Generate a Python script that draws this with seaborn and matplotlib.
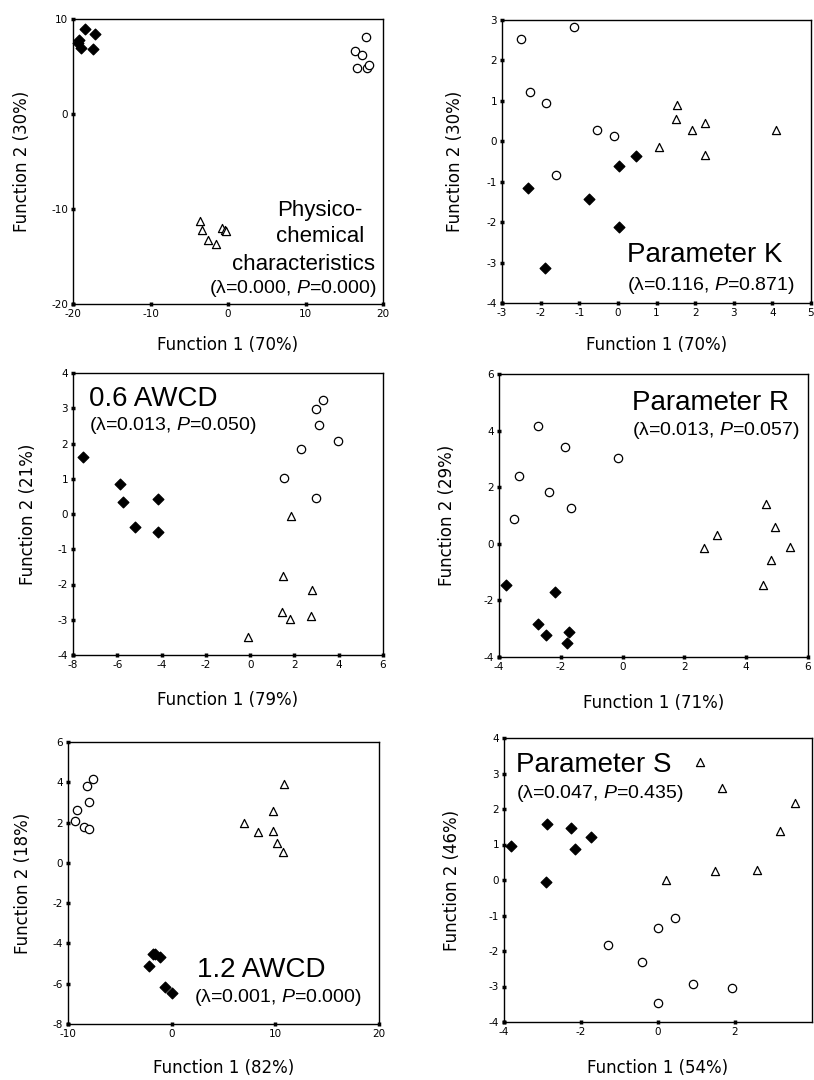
import pandas as pd
import matplotlib
matplotlib.use("Agg")
import matplotlib.pyplot as plt
import seaborn as sns

# Стиль
sns.set_style("white")
plt.rcParams['font.family'] = ['DejaVu Sans']
plt.rcParams['text.color'] = 'black'
plt.rcParams['axes.labelcolor'] = 'black'
plt.rcParams['xtick.color'] = 'black'
plt.rcParams['ytick.color'] = 'black'
plt.rcParams['axes.unicode_minus'] = False
plt.rcParams['mathtext.fontset'] = 'custom'
plt.rcParams['mathtext.it'] = 'Liberation Sans:italic'
plt.rcParams['mathtext.rm'] = 'Liberation Sans'

# --- Данные ---
# Physico-chemical characteristics
phys_dia_x = [-18.4, -17.2, -19.2, -19.0, -17.4, -19.3]
phys_dia_y = [8.9, 8.4, 7.8, 6.9, 6.8, 7.5]
phys_cir_x = [17.8, 16.4, 17.3, 16.7, 17.9, 18.2]
phys_cir_y = [8.1, 6.6, 6.2, 4.8, 4.8, 5.2]
phys_tri_x = [-3.6, -3.3, -2.6, -1.5, -0.8, -0.35, -0.2]
phys_tri_y = [-11.3, -12.2, -13.3, -13.7, -12.0, -12.2, -12.3]

# Parameter K
k_dia_x = [-2.33, -1.89, -0.75, 0.03, 0.03, 0.47]
k_dia_y = [-1.16, -3.13, -1.42, -0.62, -2.11, -0.36]
k_cir_x = [-2.52, -1.14, -2.27, -1.85, -0.54, -0.09, -1.59]
k_cir_y = [2.52, 2.83, 1.22, 0.95, 0.29, 0.14, -0.83]
k_tri_x = [1.07, 1.53, 1.50, 1.91, 2.26, 2.26, 4.09]
k_tri_y = [-0.14, 0.89, 0.56, 0.29, 0.44, -0.33, 0.29]

# 0.6 AWCD
a06_dia_x = [-7.55, -5.87, -5.76, -4.14, -5.2, -4.14]
a06_dia_y = [1.61, 0.84, 0.33, 0.43, -0.36, -0.50]
a06_cir_x = [2.98, 3.27, 3.09, 3.96, 2.28, 1.54, 2.98]
a06_cir_y = [2.98, 3.22, 2.53, 2.08, 1.85, 1.01, 0.46]
a06_tri_x = [1.85, 1.5, 2.78, 1.45, 1.8, 2.74, -0.09]
a06_tri_y = [-0.05, -1.76, -2.16, -2.77, -2.99, -2.89, -3.49]

# Parameter R
r_dia_x = [-3.78, -2.19, -2.74, -2.47, -1.75, -1.79]
r_dia_y = [-1.45, -1.72, -2.85, -3.21, -3.12, -3.5]
r_cir_x = [-2.74, -1.88, -0.15, -3.35, -2.39, -1.68, -3.50]
r_cir_y = [4.16, 3.43, 3.03, 2.41, 1.83, 1.25, 0.86]
r_tri_x = [2.65, 3.05, 4.65, 4.94, 5.41, 4.81, 4.54]
r_tri_y = [-0.15, 0.3, 1.39, 0.58, -0.12, -0.57, -1.45]

# 1.2 AWCD
a12_dia_x = [-2.23, -1.58, -1.16, -0.65, 0.03, -1.8]
a12_dia_y = [-5.13, -4.52, -4.65, -6.15, -6.48, -4.5]
a12_cir_x = [-7.63, -8.21, -8.02, -9.18, -9.28, -8.44, -8.02]
a12_cir_y = [4.15, 3.82, 3.04, 2.62, 2.09, 1.76, 1.66]
a12_tri_x = [10.8, 9.76, 6.98, 8.31, 9.76, 10.2, 10.73]
a12_tri_y = [3.9, 2.59, 1.96, 1.51, 1.58, 1.0, 0.55]

# Parameter S
s_dia_x = [-3.83, -2.88, -2.27, -2.16, -1.74, -2.90]
s_dia_y = [0.95, 1.58, 1.47, 0.88, 1.21, -0.05]
s_cir_x = [0.43, -0.01, -1.29, -0.42, 0.91, 1.91, -0.01]
s_cir_y = [-1.06, -1.35, -1.82, -2.30, -2.92, -3.03, -3.46]
s_tri_x = [1.09, 1.67, 3.55, 3.17, 1.47, 2.58, 0.21]
s_tri_y = [3.31, 2.6, 2.16, 1.39, 0.24, 0.27, -0.01]


def make_df(dx, dy, cx, cy, tx, ty):
    return pd.concat([
        pd.DataFrame({'f1': dx, 'f2': dy, 'group': 'dia'}),
        pd.DataFrame({'f1': cx, 'f2': cy, 'group': 'cir'}),
        pd.DataFrame({'f1': tx, 'f2': ty, 'group': 'tri'}),
    ], ignore_index=True)


FIG_W, FIG_H = 814, 1080
fig = plt.figure(figsize=(FIG_W / 100, FIG_H / 100), dpi=100)

lam = lambda l, p: '(λ=' + l + r', $\mathit{P}$=' + p + ')'

panels = [
    dict(df=make_df(phys_dia_x, phys_dia_y, phys_cir_x, phys_cir_y, phys_tri_x, phys_tri_y),
         box=(73, 19, 383, 304), xlim=(-20, 20), ylim=(-20, 10),
         xticks=[-20, -10, 0, 10, 20], yticks=[-20, -10, 0, 10],
         xlabel='Function 1 (70%)', ylabel='Function 2 (30%)', xoff=41, yoff=51,
         texts=[('Physico-', 0.797, 0.309, 16, 'center'),
                ('chemical', 0.797, 0.218, 16, 'center'),
                ('characteristics', 0.742, 0.119, 16, 'center'),
                (lam('0.000', '0.000'), 0.98, 0.039, 14, 'right')]),
    dict(df=make_df(k_dia_x, k_dia_y, k_cir_x, k_cir_y, k_tri_x, k_tri_y),
         box=(502, 20, 811, 303), xlim=(-3, 5), ylim=(-4, 3),
         xticks=[-3, -2, -1, 0, 1, 2, 3, 4, 5], yticks=[-4, -3, -2, -1, 0, 1, 2, 3],
         xlabel='Function 1 (70%)', ylabel='Function 2 (30%)', xoff=42, yoff=47,
         texts=[('Parameter K', 0.406, 0.145, 20, 'left'),
                (lam('0.116', '0.871'), 0.406, 0.046, 14, 'left')]),
    dict(df=make_df(a06_dia_x, a06_dia_y, a06_cir_x, a06_cir_y, a06_tri_x, a06_tri_y),
         box=(73, 373, 383, 655), xlim=(-8, 6), ylim=(-4, 4),
         xticks=[-8, -6, -4, -2, 0, 2, 4, 6], yticks=[-4, -3, -2, -1, 0, 1, 2, 3, 4],
         xlabel='Function 1 (79%)', ylabel='Function 2 (21%)', xoff=45, yoff=45,
         texts=[('0.6 AWCD', 0.052, 0.883, 20, 'left'),
                (lam('0.013', '0.050'), 0.052, 0.798, 14, 'left')]),
    dict(df=make_df(r_dia_x, r_dia_y, r_cir_x, r_cir_y, r_tri_x, r_tri_y),
         box=(499, 374, 808, 657), xlim=(-4, 6), ylim=(-4, 6),
         xticks=[-4, -2, 0, 2, 4, 6], yticks=[-4, -2, 0, 2, 4, 6],
         xlabel='Function 1 (71%)', ylabel='Function 2 (29%)', xoff=46, yoff=52,
         texts=[('Parameter R', 0.43, 0.873, 20, 'left'),
                (lam('0.013', '0.057'), 0.43, 0.784, 14, 'left')]),
    dict(df=make_df(a12_dia_x, a12_dia_y, a12_cir_x, a12_cir_y, a12_tri_x, a12_tri_y),
         box=(68, 742, 379, 1024), xlim=(-10, 20), ylim=(-8, 6),
         xticks=[-10, 0, 10, 20], yticks=[-8, -6, -4, -2, 0, 2, 4, 6],
         xlabel='Function 1 (82%)', ylabel='Function 2 (18%)', xoff=44, yoff=45,
         texts=[('1.2 AWCD', 0.415, 0.167, 20, 'left'),
                (lam('0.001', '0.000'), 0.405, 0.078, 14, 'left')]),
    dict(df=make_df(s_dia_x, s_dia_y, s_cir_x, s_cir_y, s_tri_x, s_tri_y),
         box=(504, 738, 812, 1022), xlim=(-4, 4), ylim=(-4, 4),
         xticks=[-4, -2, 0, 2], yticks=[-4, -3, -2, -1, 0, 1, 2, 3, 4],
         xlabel='Function 1 (54%)', ylabel='Function 2 (46%)', xoff=46, yoff=52,
         texts=[('Parameter S', 0.039, 0.88, 20, 'left'),
                (lam('0.047', '0.435'), 0.039, 0.79, 14, 'left')]),
]

styles = {
    'dia': dict(marker='D', color='black', edgecolor='black', s=30),
    'cir': dict(marker='o', color='white', edgecolor='black', s=36),
    'tri': dict(marker='^', color='white', edgecolor='black', s=34),
}

for p in panels:
    l, t, r, b = p['box']
    ax = fig.add_axes([l / FIG_W, 1 - b / FIG_H, (r - l) / FIG_W, (b - t) / FIG_H])
    for g, st in styles.items():
        sub = p['df'][p['df']['group'] == g]
        sns.scatterplot(data=sub, x='f1', y='f2', ax=ax, linewidth=0.9,
                        zorder=3, clip_on=False, **st)
    ax.set_xlim(*p['xlim'])
    ax.set_ylim(*p['ylim'])
    ax.set_xticks(p['xticks'])
    ax.set_yticks(p['yticks'])
    ax.tick_params(bottom=True, left=True, direction='inout', length=3, width=2.5,
                   labelsize=7.5, pad=2, colors='black')
    for sp in ax.spines.values():
        sp.set_color('black')
        sp.set_linewidth(1.0)
    ax.set_xlabel(p['xlabel'], fontsize=12, color='black')
    ax.set_ylabel(p['ylabel'], fontsize=12, color='black')
    ax.xaxis.label.set_va('center')
    ax.yaxis.label.set_va('center')
    ax.xaxis.set_label_coords(0.5, -p['xoff'] / (b - t))
    ax.yaxis.set_label_coords(-p['yoff'] / (r - l), 0.5)
    for txt, x, y, size, ha in p['texts']:
        ax.text(x, y, txt, transform=ax.transAxes, ha=ha, va='baseline',
                fontsize=size, color='black', family=['Liberation Sans', 'DejaVu Sans'])

plt.savefig('out.png', dpi=100)
